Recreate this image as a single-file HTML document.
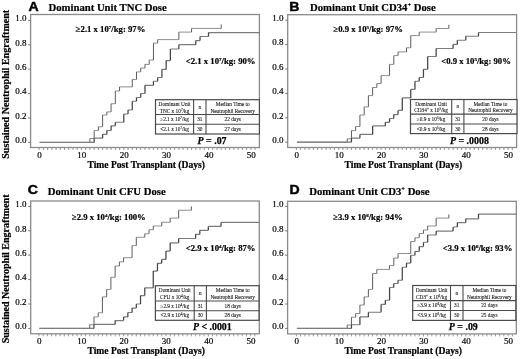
<!DOCTYPE html><html><head><meta charset="utf-8"><style>
html,body{margin:0;padding:0;background:#fff;width:520px;height:359px;overflow:hidden}
svg{display:block}
.lt{font-family:"Liberation Sans",sans-serif;font-weight:bold;font-size:12.8px;fill:#000;stroke:#000;stroke-width:0.45px}
.tt{font-family:"Liberation Serif",serif;font-weight:bold;font-size:10.7px;fill:#000;stroke:#000;stroke-width:0.2px}
.tk{font-family:"Liberation Serif",serif;font-size:9px;fill:#000;stroke:#000;stroke-width:0.18px}
.an{font-family:"Liberation Serif",serif;font-weight:bold;font-size:8.7px;fill:#000;stroke:#000;stroke-width:0.2px}
.tb{font-family:"Liberation Serif",serif;font-size:5.3px;fill:#1a1a1a;stroke:#1a1a1a;stroke-width:0.1px}
.pv{font-family:"Liberation Serif",serif;font-weight:bold;font-size:9.9px;fill:#000;stroke:#000;stroke-width:0.25px}
.xt{font-family:"Liberation Serif",serif;font-weight:bold;font-size:9.6px;fill:#000;stroke:#000;stroke-width:0.2px}
.yt{font-family:"Liberation Serif",serif;font-weight:bold;font-size:10.05px;fill:#000;stroke:#000;stroke-width:0.2px}
</style></head><body>
<svg width="520" height="359" viewBox="0 0 520 359">
<rect width="520" height="359" fill="#fff"/>
<g><text class="lt" transform="translate(28.5 10.9) scale(1.1 1)">A</text><text class="tt" x="48.5" y="11">Dominant Unit TNC Dose</text><rect x="30.6" y="14.5" width="228.8" height="133" fill="none" stroke="#8a8a8a" stroke-width="1.3"/><line x1="28.1" y1="142.4" x2="30.6" y2="142.4" stroke="#777" stroke-width="1"/><text class="tk" x="26.4" y="143.2" text-anchor="end">0.0</text><line x1="28.1" y1="118" x2="30.6" y2="118" stroke="#777" stroke-width="1"/><text class="tk" x="26.4" y="118.8" text-anchor="end">0.2</text><line x1="28.1" y1="93.6" x2="30.6" y2="93.6" stroke="#777" stroke-width="1"/><text class="tk" x="26.4" y="94.4" text-anchor="end">0.4</text><line x1="28.1" y1="69.2" x2="30.6" y2="69.2" stroke="#777" stroke-width="1"/><text class="tk" x="26.4" y="70" text-anchor="end">0.6</text><line x1="28.1" y1="44.8" x2="30.6" y2="44.8" stroke="#777" stroke-width="1"/><text class="tk" x="26.4" y="45.6" text-anchor="end">0.8</text><line x1="28.1" y1="20.4" x2="30.6" y2="20.4" stroke="#777" stroke-width="1"/><text class="tk" x="26.4" y="21.2" text-anchor="end">1.0</text><path d="M39.1 147.5v2.5M43.34 147.5v2.5M47.57 147.5v2.5M51.81 147.5v2.5M56.04 147.5v2.5M60.28 147.5v2.5M64.51 147.5v2.5M68.75 147.5v2.5M72.98 147.5v2.5M77.22 147.5v2.5M81.45 147.5v2.5M85.69 147.5v2.5M89.92 147.5v2.5M94.16 147.5v2.5M98.39 147.5v2.5M102.62 147.5v2.5M106.86 147.5v2.5M111.09 147.5v2.5M115.33 147.5v2.5M119.56 147.5v2.5M123.8 147.5v2.5M128.03 147.5v2.5M132.27 147.5v2.5M136.5 147.5v2.5M140.74 147.5v2.5M144.98 147.5v2.5M149.21 147.5v2.5M153.45 147.5v2.5M157.68 147.5v2.5M161.92 147.5v2.5M166.15 147.5v2.5M170.38 147.5v2.5M174.62 147.5v2.5M178.86 147.5v2.5M183.09 147.5v2.5M187.33 147.5v2.5M191.56 147.5v2.5M195.8 147.5v2.5M200.03 147.5v2.5M204.27 147.5v2.5M208.5 147.5v2.5M212.74 147.5v2.5M216.97 147.5v2.5M221.21 147.5v2.5M225.44 147.5v2.5M229.68 147.5v2.5M233.91 147.5v2.5M238.15 147.5v2.5M242.38 147.5v2.5M246.62 147.5v2.5M250.85 147.5v2.5M255.09 147.5v2.5" stroke="#8f8f8f" stroke-width="0.9" fill="none"/><text class="tk" x="39.5" y="157.8" text-anchor="middle">0</text><text class="tk" x="81.85" y="157.8" text-anchor="middle">10</text><text class="tk" x="124.2" y="157.8" text-anchor="middle">20</text><text class="tk" x="166.55" y="157.8" text-anchor="middle">30</text><text class="tk" x="208.9" y="157.8" text-anchor="middle">40</text><text class="tk" x="251.25" y="157.8" text-anchor="middle">50</text><text class="xt" x="146.2" y="167.7" text-anchor="middle">Time Post Transplant (Days)</text><text class="yt" transform="translate(9.3 84.3) rotate(-90)" text-anchor="middle">Sustained Neutrophil Engraftment</text><path d="M39.6 142.4H89.92M89.92 138.5H94.16M94.16 130.6H98.39M98.39 126.8H102.62M102.62 115H106.86M106.86 111.9H111.09M111.09 103.75H115.33M115.33 91H119.56M119.56 86.9H132.27M132.27 79.4H136.5M136.5 71.9H140.74M140.74 68.1H144.98M144.98 64.4H149.21M149.21 60H153.45M153.45 43.1H157.68M157.68 39.6H178.86M178.86 32.1H191.56M191.56 28.4H221.21" stroke="#909090" stroke-width="1" fill="none"/><path d="M89.92 142.4V138.5M94.16 138.5V130.6M98.39 130.6V126.8M102.62 126.8V115M106.86 115V111.9M111.09 111.9V103.75M115.33 103.75V91M119.56 91V86.9M132.27 86.9V79.4M136.5 79.4V71.9M140.74 71.9V68.1M144.98 68.1V64.4M149.21 64.4V60M153.45 60V43.1M157.68 43.1V39.6M178.86 39.6V32.1M191.56 32.1V28.4M221.21 28.4V24.5" stroke="#5c5c5c" stroke-width="1" fill="none"/><path d="M39.6 142.4H94.16M94.16 138.2H102.62M102.62 134.3H106.86M106.86 130.5H111.09M111.09 125.8H115.33M115.33 122.25H123.8M123.8 114H128.03M128.03 110H132.27M132.27 101.25H136.5M136.5 97.5H140.74M140.74 93.5H144.98M144.98 85.3H153.45M153.45 81.25H157.68M157.68 77.5H161.92M161.92 69.4H166.15M166.15 60.6H170.38M170.38 49H178.86M178.86 44.7H195.8M195.8 40.6H200.03M200.03 36.5H208.5M208.5 32.6H259.4" stroke="#7c7c7c" stroke-width="1.2" fill="none"/><path d="M94.16 142.4V138.2M102.62 138.2V134.3M106.86 134.3V130.5M111.09 130.5V125.8M115.33 125.8V122.25M123.8 122.25V114M128.03 114V110M132.27 110V101.25M136.5 101.25V97.5M140.74 97.5V93.5M144.98 93.5V85.3M153.45 85.3V81.25M157.68 81.25V77.5M161.92 77.5V69.4M166.15 69.4V60.6M170.38 60.6V49M178.86 49V44.7M195.8 44.7V40.6M200.03 40.6V36.5M208.5 36.5V32.6" stroke="#444" stroke-width="1.25" fill="none"/><text class="an" x="75.8" y="32">≥2.1 x 10<tspan font-size="5px" dy="-2.9">7</tspan><tspan dy="2.9">/kg: 97%</tspan></text><text class="an" x="185.8" y="64.2"><2.1 x 10<tspan font-size="5px" dy="-2.9">7</tspan><tspan dy="2.9">/kg: 90%</tspan></text><rect x="155.5" y="99.7" width="103.9" height="34.3" fill="#fff" stroke="#4a4a4a" stroke-width="1.2"/><line x1="155.5" y1="114.5" x2="259.4" y2="114.5" stroke="#4a4a4a" stroke-width="1.1"/><line x1="155.5" y1="124.3" x2="259.4" y2="124.3" stroke="#4a4a4a" stroke-width="1.1"/><line x1="193.6" y1="99.7" x2="193.6" y2="134" stroke="#4a4a4a" stroke-width="1.1"/><line x1="206" y1="99.7" x2="206" y2="134" stroke="#4a4a4a" stroke-width="1.1"/><text class="tb" x="174.55" y="106.13" text-anchor="middle">Dominant Unit</text><text class="tb" x="174.55" y="112.84" text-anchor="middle">TNC x 10<tspan font-size="3.4px" dy="-2">7</tspan><tspan dy="2">/kg</tspan></text><text class="tb" x="199.8" y="108.7" text-anchor="middle">n</text><text class="tb" x="232.7" y="106.13" text-anchor="middle">Median Time to</text><text class="tb" x="232.7" y="112.84" text-anchor="middle">Neutrophil Recovery</text><text class="tb" x="174.55" y="121.2" text-anchor="middle">≥2.1 x 10<tspan font-size="3.4px" dy="-2">7</tspan><tspan dy="2">/kg</tspan></text><text class="tb" x="199.8" y="121.2" text-anchor="middle">31</text><text class="tb" x="232.7" y="121.2" text-anchor="middle">22 days</text><text class="tb" x="174.55" y="130.95" text-anchor="middle"><2.1 x 10<tspan font-size="3.4px" dy="-2">7</tspan><tspan dy="2">/kg</tspan></text><text class="tb" x="199.8" y="130.95" text-anchor="middle">30</text><text class="tb" x="232.7" y="130.95" text-anchor="middle">27 days</text><text class="pv" x="197.6" y="143.5"><tspan font-style="italic">P</tspan> = .07</text></g>
<g><text class="lt" transform="translate(289.3 10.9) scale(1.1 1)">B</text><text class="tt" x="310" y="11">Dominant Unit CD34<tspan font-size="6.5px" dy="-4">+</tspan><tspan dy="4"> Dose</tspan></text><rect x="287.7" y="14.7" width="228.9" height="132.8" fill="none" stroke="#8a8a8a" stroke-width="1.3"/><line x1="285.2" y1="142.2" x2="287.7" y2="142.2" stroke="#777" stroke-width="1"/><text class="tk" x="283.5" y="143" text-anchor="end">0.0</text><line x1="285.2" y1="117.8" x2="287.7" y2="117.8" stroke="#777" stroke-width="1"/><text class="tk" x="283.5" y="118.6" text-anchor="end">0.2</text><line x1="285.2" y1="93.4" x2="287.7" y2="93.4" stroke="#777" stroke-width="1"/><text class="tk" x="283.5" y="94.2" text-anchor="end">0.4</text><line x1="285.2" y1="69" x2="287.7" y2="69" stroke="#777" stroke-width="1"/><text class="tk" x="283.5" y="69.8" text-anchor="end">0.6</text><line x1="285.2" y1="44.6" x2="287.7" y2="44.6" stroke="#777" stroke-width="1"/><text class="tk" x="283.5" y="45.4" text-anchor="end">0.8</text><line x1="285.2" y1="20.2" x2="287.7" y2="20.2" stroke="#777" stroke-width="1"/><text class="tk" x="283.5" y="21" text-anchor="end">1.0</text><path d="M296.4 147.5v2.5M300.63 147.5v2.5M304.87 147.5v2.5M309.1 147.5v2.5M313.34 147.5v2.5M317.57 147.5v2.5M321.81 147.5v2.5M326.04 147.5v2.5M330.28 147.5v2.5M334.51 147.5v2.5M338.75 147.5v2.5M342.98 147.5v2.5M347.22 147.5v2.5M351.45 147.5v2.5M355.69 147.5v2.5M359.92 147.5v2.5M364.16 147.5v2.5M368.39 147.5v2.5M372.63 147.5v2.5M376.87 147.5v2.5M381.1 147.5v2.5M385.33 147.5v2.5M389.57 147.5v2.5M393.8 147.5v2.5M398.04 147.5v2.5M402.27 147.5v2.5M406.51 147.5v2.5M410.75 147.5v2.5M414.98 147.5v2.5M419.21 147.5v2.5M423.45 147.5v2.5M427.68 147.5v2.5M431.92 147.5v2.5M436.15 147.5v2.5M440.39 147.5v2.5M444.62 147.5v2.5M448.86 147.5v2.5M453.1 147.5v2.5M457.33 147.5v2.5M461.56 147.5v2.5M465.8 147.5v2.5M470.03 147.5v2.5M474.27 147.5v2.5M478.5 147.5v2.5M482.74 147.5v2.5M486.98 147.5v2.5M491.21 147.5v2.5M495.44 147.5v2.5M499.68 147.5v2.5M503.91 147.5v2.5M508.15 147.5v2.5M512.38 147.5v2.5" stroke="#8f8f8f" stroke-width="0.9" fill="none"/><text class="tk" x="296.8" y="157.8" text-anchor="middle">0</text><text class="tk" x="339.15" y="157.8" text-anchor="middle">10</text><text class="tk" x="381.5" y="157.8" text-anchor="middle">20</text><text class="tk" x="423.85" y="157.8" text-anchor="middle">30</text><text class="tk" x="466.2" y="157.8" text-anchor="middle">40</text><text class="tk" x="508.55" y="157.8" text-anchor="middle">50</text><text class="xt" x="403.35" y="167.9" text-anchor="middle">Time Post Transplant (Days)</text><path d="M296.9 142.2H347.22M347.22 138.75H351.45M351.45 130.6H355.69M355.69 126.5H359.92M359.92 115H364.16M364.16 106.9H368.39M368.39 95.6H372.63M372.63 87.5H376.87M376.87 83.5H381.1M381.1 75.6H389.57M389.57 64.4H393.8M393.8 55.6H398.04M398.04 51.9H406.51M406.51 47.75H410.75M410.75 35.6H419.21M419.21 32.1H436.15M436.15 28.5H448.86" stroke="#909090" stroke-width="1" fill="none"/><path d="M347.22 142.2V138.75M351.45 138.75V130.6M355.69 130.6V126.5M359.92 126.5V115M364.16 115V106.9M368.39 106.9V95.6M372.63 95.6V87.5M376.87 87.5V83.5M381.1 83.5V75.6M389.57 75.6V64.4M393.8 64.4V55.6M398.04 55.6V51.9M406.51 51.9V47.75M410.75 47.75V35.6M419.21 35.6V32.1M436.15 32.1V28.5M448.86 28.5V24.75" stroke="#5c5c5c" stroke-width="1" fill="none"/><path d="M296.9 142.2H351.45M351.45 138.1H359.92M359.92 134.4H372.63M372.63 125.9H385.33M385.33 122.3H389.57M389.57 118.5H393.8M393.8 114.6H398.04M398.04 110.4H402.27M402.27 97.9H410.75M410.75 89.4H414.98M414.98 81.25H419.21M419.21 77.5H423.45M423.45 69.3H427.68M427.68 56.5H436.15M436.15 48.5H453.1M453.1 44.4H457.33M457.33 40.25H465.8M465.8 36.25H478.5M478.5 32.5H516.6" stroke="#7c7c7c" stroke-width="1.2" fill="none"/><path d="M351.45 142.2V138.1M359.92 138.1V134.4M372.63 134.4V125.9M385.33 125.9V122.3M389.57 122.3V118.5M393.8 118.5V114.6M398.04 114.6V110.4M402.27 110.4V97.9M410.75 97.9V89.4M414.98 89.4V81.25M419.21 81.25V77.5M423.45 77.5V69.3M427.68 69.3V56.5M436.15 56.5V48.5M453.1 48.5V44.4M457.33 44.4V40.25M465.8 40.25V36.25M478.5 36.25V32.5" stroke="#444" stroke-width="1.25" fill="none"/><text class="an" x="333.5" y="31.8">≥0.9 x 10<tspan font-size="5px" dy="-2.9">5</tspan><tspan dy="2.9">/kg: 97%</tspan></text><text class="an" x="441.2" y="64.2"><0.9 x 10<tspan font-size="5px" dy="-2.9">5</tspan><tspan dy="2.9">/kg: 90%</tspan></text><rect x="410.5" y="99.5" width="106.5" height="34.1" fill="#fff" stroke="#4a4a4a" stroke-width="1.2"/><line x1="410.5" y1="114.1" x2="517" y2="114.1" stroke="#4a4a4a" stroke-width="1.1"/><line x1="410.5" y1="124" x2="517" y2="124" stroke="#4a4a4a" stroke-width="1.1"/><line x1="451.7" y1="99.5" x2="451.7" y2="133.6" stroke="#4a4a4a" stroke-width="1.1"/><line x1="463.9" y1="99.5" x2="463.9" y2="133.6" stroke="#4a4a4a" stroke-width="1.1"/><text class="tb" x="431.1" y="105.86" text-anchor="middle">Dominant Unit</text><text class="tb" x="431.1" y="112.49" text-anchor="middle">CD34<tspan font-size="3.4px" dy="-2">+</tspan><tspan dy="2"> x 10</tspan><tspan font-size="3.4px" dy="-2">5</tspan><tspan dy="2">/kg</tspan></text><text class="tb" x="457.8" y="108.4" text-anchor="middle">n</text><text class="tb" x="490.45" y="105.86" text-anchor="middle">Median Time to</text><text class="tb" x="490.45" y="112.49" text-anchor="middle">Neutrophil Recovery</text><text class="tb" x="431.1" y="120.85" text-anchor="middle">≥0.9 x 10<tspan font-size="3.4px" dy="-2">5</tspan><tspan dy="2">/kg</tspan></text><text class="tb" x="457.8" y="120.85" text-anchor="middle">31</text><text class="tb" x="490.45" y="120.85" text-anchor="middle">20 days</text><text class="tb" x="431.1" y="130.6" text-anchor="middle"><0.9 x 10<tspan font-size="3.4px" dy="-2">5</tspan><tspan dy="2">/kg</tspan></text><text class="tb" x="457.8" y="130.6" text-anchor="middle">30</text><text class="tb" x="490.45" y="130.6" text-anchor="middle">28 days</text><text class="pv" x="450" y="143.8"><tspan font-style="italic">P</tspan> = .0008</text></g>
<g><text class="lt" transform="translate(27.7 194) scale(1.1 1)">C</text><text class="tt" x="47.8" y="194.7">Dominant Unit CFU Dose</text><rect x="30.7" y="201" width="228.6" height="132.8" fill="none" stroke="#8a8a8a" stroke-width="1.3"/><line x1="28.2" y1="328.4" x2="30.7" y2="328.4" stroke="#777" stroke-width="1"/><text class="tk" x="26.5" y="329.2" text-anchor="end">0.0</text><line x1="28.2" y1="304" x2="30.7" y2="304" stroke="#777" stroke-width="1"/><text class="tk" x="26.5" y="304.8" text-anchor="end">0.2</text><line x1="28.2" y1="279.6" x2="30.7" y2="279.6" stroke="#777" stroke-width="1"/><text class="tk" x="26.5" y="280.4" text-anchor="end">0.4</text><line x1="28.2" y1="255.2" x2="30.7" y2="255.2" stroke="#777" stroke-width="1"/><text class="tk" x="26.5" y="256" text-anchor="end">0.6</text><line x1="28.2" y1="230.8" x2="30.7" y2="230.8" stroke="#777" stroke-width="1"/><text class="tk" x="26.5" y="231.6" text-anchor="end">0.8</text><line x1="28.2" y1="206.4" x2="30.7" y2="206.4" stroke="#777" stroke-width="1"/><text class="tk" x="26.5" y="207.2" text-anchor="end">1.0</text><path d="M38.9 333.8v2.5M43.13 333.8v2.5M47.37 333.8v2.5M51.61 333.8v2.5M55.84 333.8v2.5M60.08 333.8v2.5M64.31 333.8v2.5M68.55 333.8v2.5M72.78 333.8v2.5M77.02 333.8v2.5M81.25 333.8v2.5M85.48 333.8v2.5M89.72 333.8v2.5M93.96 333.8v2.5M98.19 333.8v2.5M102.43 333.8v2.5M106.66 333.8v2.5M110.9 333.8v2.5M115.13 333.8v2.5M119.37 333.8v2.5M123.6 333.8v2.5M127.84 333.8v2.5M132.07 333.8v2.5M136.31 333.8v2.5M140.54 333.8v2.5M144.78 333.8v2.5M149.01 333.8v2.5M153.25 333.8v2.5M157.48 333.8v2.5M161.72 333.8v2.5M165.95 333.8v2.5M170.19 333.8v2.5M174.42 333.8v2.5M178.66 333.8v2.5M182.89 333.8v2.5M187.13 333.8v2.5M191.36 333.8v2.5M195.6 333.8v2.5M199.83 333.8v2.5M204.07 333.8v2.5M208.3 333.8v2.5M212.54 333.8v2.5M216.77 333.8v2.5M221.01 333.8v2.5M225.24 333.8v2.5M229.48 333.8v2.5M233.71 333.8v2.5M237.95 333.8v2.5M242.18 333.8v2.5M246.42 333.8v2.5M250.65 333.8v2.5M254.89 333.8v2.5" stroke="#8f8f8f" stroke-width="0.9" fill="none"/><text class="tk" x="39.3" y="344.1" text-anchor="middle">0</text><text class="tk" x="81.65" y="344.1" text-anchor="middle">10</text><text class="tk" x="124" y="344.1" text-anchor="middle">20</text><text class="tk" x="166.35" y="344.1" text-anchor="middle">30</text><text class="tk" x="208.7" y="344.1" text-anchor="middle">40</text><text class="tk" x="251.05" y="344.1" text-anchor="middle">50</text><text class="xt" x="146.2" y="354.2" text-anchor="middle">Time Post Transplant (Days)</text><text class="yt" transform="translate(9.1 268.9) rotate(-90)" text-anchor="middle">Sustained Neutrophil Engraftment</text><path d="M39.4 328.4H89.72M89.72 324.75H93.96M93.96 316.9H98.19M98.19 312.75H102.43M102.43 296.9H106.66M106.66 289.4H110.9M110.9 277.25H115.13M115.13 266H119.37M119.37 261.9H123.6M123.6 257.75H132.07M132.07 245.6H136.31M136.31 237.25H144.78M144.78 233.75H149.01M149.01 229.75H153.25M153.25 226H161.72M161.72 222.25H170.19M170.19 218.1H178.66M178.66 210.25H191.36" stroke="#909090" stroke-width="1" fill="none"/><path d="M89.72 328.4V324.75M93.96 324.75V316.9M98.19 316.9V312.75M102.43 312.75V296.9M106.66 296.9V289.4M110.9 289.4V277.25M115.13 277.25V266M119.37 266V261.9M123.6 261.9V257.75M132.07 257.75V245.6M136.31 245.6V237.25M144.78 237.25V233.75M149.01 233.75V229.75M153.25 229.75V226M161.72 226V222.25M170.19 222.25V218.1M178.66 218.1V210.25M191.36 210.25V206.4" stroke="#5c5c5c" stroke-width="1" fill="none"/><path d="M39.4 328.4H93.96M93.96 324.4H115.13M115.13 320.6H123.6M123.6 316.9H127.84M127.84 312.5H132.07M132.07 308.1H136.31M136.31 304H140.54M140.54 295.6H144.78M144.78 287.8H153.25M153.25 271.1H157.48M157.48 263.3H161.72M161.72 259.4H165.95M165.95 251.1H170.19M170.19 242.8H178.66M178.66 238.5H195.6M195.6 234.3H199.83M199.83 230.3H208.3M208.3 226.4H221.01M221.01 222.4H259.3" stroke="#7c7c7c" stroke-width="1.2" fill="none"/><path d="M93.96 328.4V324.4M115.13 324.4V320.6M123.6 320.6V316.9M127.84 316.9V312.5M132.07 312.5V308.1M136.31 308.1V304M140.54 304V295.6M144.78 295.6V287.8M153.25 287.8V271.1M157.48 271.1V263.3M161.72 263.3V259.4M165.95 259.4V251.1M170.19 251.1V242.8M178.66 242.8V238.5M195.6 238.5V234.3M199.83 234.3V230.3M208.3 230.3V226.4M221.01 226.4V222.4" stroke="#444" stroke-width="1.25" fill="none"/><text class="an" x="71.9" y="220">≥2.9 x 10<tspan font-size="5px" dy="-2.9">4</tspan><tspan dy="2.9">/kg: 100%</tspan></text><text class="an" x="185.8" y="250.5"><2.9 x 10<tspan font-size="5px" dy="-2.9">4</tspan><tspan dy="2.9">/kg: 87%</tspan></text><rect x="155.4" y="285.7" width="103.6" height="34.6" fill="#fff" stroke="#4a4a4a" stroke-width="1.2"/><line x1="155.4" y1="301" x2="259" y2="301" stroke="#4a4a4a" stroke-width="1.1"/><line x1="155.4" y1="310.7" x2="259" y2="310.7" stroke="#4a4a4a" stroke-width="1.1"/><line x1="194.2" y1="285.7" x2="194.2" y2="320.3" stroke="#4a4a4a" stroke-width="1.1"/><line x1="206.4" y1="285.7" x2="206.4" y2="320.3" stroke="#4a4a4a" stroke-width="1.1"/><text class="tb" x="174.8" y="292.31" text-anchor="middle">Dominant Unit</text><text class="tb" x="174.8" y="299.23" text-anchor="middle">CFU x 10<tspan font-size="3.4px" dy="-2">4</tspan><tspan dy="2">/kg</tspan></text><text class="tb" x="200.3" y="294.95" text-anchor="middle">n</text><text class="tb" x="232.7" y="292.31" text-anchor="middle">Median Time to</text><text class="tb" x="232.7" y="299.23" text-anchor="middle">Neutrophil Recovery</text><text class="tb" x="174.8" y="307.65" text-anchor="middle">≥2.9 x 10<tspan font-size="3.4px" dy="-2">4</tspan><tspan dy="2">/kg</tspan></text><text class="tb" x="200.3" y="307.65" text-anchor="middle">31</text><text class="tb" x="232.7" y="307.65" text-anchor="middle">18 days</text><text class="tb" x="174.8" y="317.3" text-anchor="middle"><2.9 x 10<tspan font-size="3.4px" dy="-2">4</tspan><tspan dy="2">/kg</tspan></text><text class="tb" x="200.3" y="317.3" text-anchor="middle">30</text><text class="tb" x="232.7" y="317.3" text-anchor="middle">28 days</text><text class="pv" x="192.9" y="330.1"><tspan font-style="italic">P</tspan> < .0001</text></g>
<g><text class="lt" transform="translate(289.5 194) scale(1.1 1)">D</text><text class="tt" x="309.2" y="194.5">Dominant Unit CD3<tspan font-size="6.5px" dy="-4">+</tspan><tspan dy="4"> Dose</tspan></text><rect x="287.6" y="201.3" width="228.7" height="132.6" fill="none" stroke="#8a8a8a" stroke-width="1.3"/><line x1="285.1" y1="328.4" x2="287.6" y2="328.4" stroke="#777" stroke-width="1"/><text class="tk" x="283.4" y="329.2" text-anchor="end">0.0</text><line x1="285.1" y1="304" x2="287.6" y2="304" stroke="#777" stroke-width="1"/><text class="tk" x="283.4" y="304.8" text-anchor="end">0.2</text><line x1="285.1" y1="279.6" x2="287.6" y2="279.6" stroke="#777" stroke-width="1"/><text class="tk" x="283.4" y="280.4" text-anchor="end">0.4</text><line x1="285.1" y1="255.2" x2="287.6" y2="255.2" stroke="#777" stroke-width="1"/><text class="tk" x="283.4" y="256" text-anchor="end">0.6</text><line x1="285.1" y1="230.8" x2="287.6" y2="230.8" stroke="#777" stroke-width="1"/><text class="tk" x="283.4" y="231.6" text-anchor="end">0.8</text><line x1="285.1" y1="206.4" x2="287.6" y2="206.4" stroke="#777" stroke-width="1"/><text class="tk" x="283.4" y="207.2" text-anchor="end">1.0</text><path d="M296.4 333.9v2.5M300.63 333.9v2.5M304.87 333.9v2.5M309.1 333.9v2.5M313.34 333.9v2.5M317.57 333.9v2.5M321.81 333.9v2.5M326.04 333.9v2.5M330.28 333.9v2.5M334.51 333.9v2.5M338.75 333.9v2.5M342.98 333.9v2.5M347.22 333.9v2.5M351.45 333.9v2.5M355.69 333.9v2.5M359.92 333.9v2.5M364.16 333.9v2.5M368.39 333.9v2.5M372.63 333.9v2.5M376.87 333.9v2.5M381.1 333.9v2.5M385.33 333.9v2.5M389.57 333.9v2.5M393.8 333.9v2.5M398.04 333.9v2.5M402.27 333.9v2.5M406.51 333.9v2.5M410.75 333.9v2.5M414.98 333.9v2.5M419.21 333.9v2.5M423.45 333.9v2.5M427.68 333.9v2.5M431.92 333.9v2.5M436.15 333.9v2.5M440.39 333.9v2.5M444.62 333.9v2.5M448.86 333.9v2.5M453.1 333.9v2.5M457.33 333.9v2.5M461.56 333.9v2.5M465.8 333.9v2.5M470.03 333.9v2.5M474.27 333.9v2.5M478.5 333.9v2.5M482.74 333.9v2.5M486.98 333.9v2.5M491.21 333.9v2.5M495.44 333.9v2.5M499.68 333.9v2.5M503.91 333.9v2.5M508.15 333.9v2.5M512.38 333.9v2.5" stroke="#8f8f8f" stroke-width="0.9" fill="none"/><text class="tk" x="296.8" y="344.2" text-anchor="middle">0</text><text class="tk" x="339.15" y="344.2" text-anchor="middle">10</text><text class="tk" x="381.5" y="344.2" text-anchor="middle">20</text><text class="tk" x="423.85" y="344.2" text-anchor="middle">30</text><text class="tk" x="466.2" y="344.2" text-anchor="middle">40</text><text class="tk" x="508.55" y="344.2" text-anchor="middle">50</text><text class="xt" x="403.15" y="354" text-anchor="middle">Time Post Transplant (Days)</text><path d="M296.9 328.4H347.22M347.22 325H351.45M351.45 317.25H355.69M355.69 313.5H359.92M359.92 305H364.16M364.16 296.9H368.39M368.39 289.4H372.63M372.63 273.5H376.87M376.87 269.4H389.57M389.57 265.6H393.8M393.8 258.1H398.04M398.04 253.5H410.75M410.75 241.5H414.98M414.98 237.75H419.21M419.21 233.5H423.45M423.45 230H427.68M427.68 226H436.15M436.15 218.1H448.86" stroke="#909090" stroke-width="1" fill="none"/><path d="M347.22 328.4V325M351.45 325V317.25M355.69 317.25V313.5M359.92 313.5V305M364.16 305V296.9M368.39 296.9V289.4M372.63 289.4V273.5M376.87 273.5V269.4M389.57 269.4V265.6M393.8 265.6V258.1M398.04 258.1V253.5M410.75 253.5V241.5M414.98 241.5V237.75M419.21 237.75V233.5M423.45 233.5V230M427.68 230V226M436.15 226V218.1M448.86 218.1V214.4" stroke="#5c5c5c" stroke-width="1" fill="none"/><path d="M296.9 328.4H351.45M351.45 324.75H359.92M359.92 316.9H368.39M368.39 312.25H381.1M381.1 304.4H385.33M385.33 300.25H389.57M389.57 287.5H393.8M393.8 283.5H398.04M398.04 280.25H402.27M402.27 267.25H406.51M406.51 263.1H410.75M410.75 255.25H414.98M414.98 251.5H419.21M419.21 246.6H423.45M423.45 242.25H427.68M427.68 235H436.15M436.15 231.1H453.1M453.1 227H457.33M457.33 222.6H465.8M465.8 218.8H478.5M478.5 214.1H516.3" stroke="#7c7c7c" stroke-width="1.2" fill="none"/><path d="M351.45 328.4V324.75M359.92 324.75V316.9M368.39 316.9V312.25M381.1 312.25V304.4M385.33 304.4V300.25M389.57 300.25V287.5M393.8 287.5V283.5M398.04 283.5V280.25M402.27 280.25V267.25M406.51 267.25V263.1M410.75 263.1V255.25M414.98 255.25V251.5M419.21 251.5V246.6M423.45 246.6V242.25M427.68 242.25V235M436.15 235V231.1M453.1 231.1V227M457.33 227V222.6M465.8 222.6V218.8M478.5 218.8V214.1" stroke="#444" stroke-width="1.25" fill="none"/><text class="an" x="333.2" y="220">≥3.9 x 10<tspan font-size="5px" dy="-2.9">6</tspan><tspan dy="2.9">/kg: 94%</tspan></text><text class="an" x="442.7" y="250.7"><3.9 x 10<tspan font-size="5px" dy="-2.9">6</tspan><tspan dy="2.9">/kg: 93%</tspan></text><rect x="412.7" y="285.5" width="103.1" height="34.9" fill="#fff" stroke="#4a4a4a" stroke-width="1.2"/><line x1="412.7" y1="300.6" x2="515.8" y2="300.6" stroke="#4a4a4a" stroke-width="1.1"/><line x1="412.7" y1="310.5" x2="515.8" y2="310.5" stroke="#4a4a4a" stroke-width="1.1"/><line x1="450.5" y1="285.5" x2="450.5" y2="320.4" stroke="#4a4a4a" stroke-width="1.1"/><line x1="463" y1="285.5" x2="463" y2="320.4" stroke="#4a4a4a" stroke-width="1.1"/><text class="tb" x="431.6" y="292.04" text-anchor="middle">Dominant Unit</text><text class="tb" x="431.6" y="298.88" text-anchor="middle">CD3<tspan font-size="3.4px" dy="-2">+</tspan><tspan dy="2"> x 10</tspan><tspan font-size="3.4px" dy="-2">6</tspan><tspan dy="2">/kg</tspan></text><text class="tb" x="456.75" y="294.65" text-anchor="middle">n</text><text class="tb" x="489.4" y="292.04" text-anchor="middle">Median Time to</text><text class="tb" x="489.4" y="298.88" text-anchor="middle">Neutrophil Recovery</text><text class="tb" x="431.6" y="307.35" text-anchor="middle">≥3.9 x 10<tspan font-size="3.4px" dy="-2">6</tspan><tspan dy="2">/kg</tspan></text><text class="tb" x="456.75" y="307.35" text-anchor="middle">31</text><text class="tb" x="489.4" y="307.35" text-anchor="middle">22 days</text><text class="tb" x="431.6" y="317.25" text-anchor="middle"><3.9 x 10<tspan font-size="3.4px" dy="-2">6</tspan><tspan dy="2">/kg</tspan></text><text class="tb" x="456.75" y="317.25" text-anchor="middle">30</text><text class="tb" x="489.4" y="317.25" text-anchor="middle">25 days</text><text class="pv" x="448.8" y="329.5"><tspan font-style="italic">P</tspan> = .09</text></g>
</svg></body></html>
